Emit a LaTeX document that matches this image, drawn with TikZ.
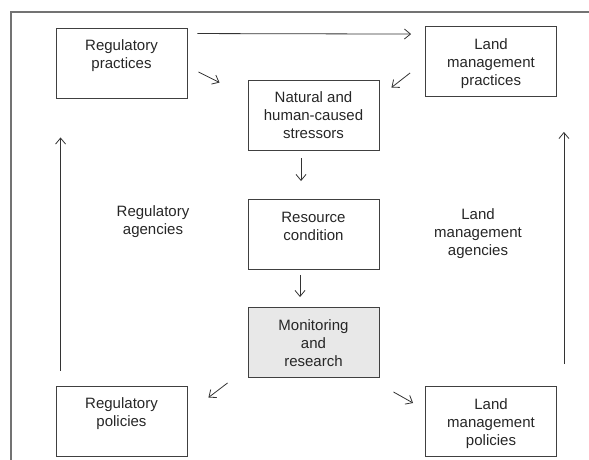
\documentclass[tikz,border=0pt]{standalone}
\usepackage{fontspec}
\setmainfont{Liberation Sans}
\usetikzlibrary{calc,arrows.meta}

\newcommand{\boxtext}[1]{\parbox[c][50pt][t]{121pt}{\centering\strut #1}}

\begin{document}
\begin{tikzpicture}[x=1pt,y=-1pt,
  every node/.style={font=\fontsize{15}{18}\selectfont, text=black!85},
  box/.style={draw=black!75, line width=0.9pt, minimum width=131pt, minimum height=70pt, inner xsep=5pt, inner ysep=10pt},
  shaded/.style={box, fill=black!9},
  flow/.style={draw=black!80, line width=0.8pt, -{Straight Barb[length=6pt,width=10pt]}},
  frame/.style={draw=black!55, line width=1.2pt}]
  \useasboundingbox (0,0) rectangle (589,460);
  \draw[frame] (11,460) -- (11,12) -- (589,12);

  \node[box] (regprac) at (121.5,63) {\boxtext{Regulatory\\practices}};
  \node[box] (landprac) at (491,61.5) {\boxtext{Land\\management\\practices}};
  \node[box] (stress) at (313.5,115) {\boxtext{Natural and\\human-caused\\stressors}};
  \node[box] (resource) at (313.5,234.5) {\boxtext{Resource\\condition}};
  \node[shaded] (monitor) at (313.5,342.5) {\boxtext{Monitoring\\and\\research}};
  \node[box] (regpol) at (121.5,421) {\boxtext{Regulatory\\policies}};
  \node[box] (landpol) at (491,421.5) {\boxtext{Land\\management\\policies}};

  \node[align=center] (regag) at (153,222) {Regulatory\\agencies};
  \node[align=center] (landag) at (478,234) {Land\\management\\agencies};

  \draw[flow] ($(regprac.north east)+(10,6)$) -- ($(landprac.north west)+(-14,8)$);
  \draw[flow] ($(regprac.east)+(11,9)$) -- ($(stress.north west)+(-28,3)$);
  \draw[flow] ($(landprac.west)+(-15,11.5)$) -- ($(stress.north east)+(12,8)$);
  \draw[flow] ($(stress.south)+(-12.5,8)$) -- ($(resource.north)+(-12.5,-18)$);
  \draw[flow] ($(resource.south)+(-13.5,5)$) -- ($(monitor.north)+(-13.5,-10)$);
  \draw[flow] ($(monitor.south west)+(-20,5)$) -- ($(regpol.north east)+(21,12)$);
  \draw[flow] ($(monitor.south east)+(14,14)$) -- ($(landpol.west)+(-12,-18.5)$);
  \draw[flow] ($(regpol.north west)+(5,-15)$) -- ($(regprac.south west)+(5,39)$);
  \draw[flow] ($(landpol.north east)+(7,-22)$) -- ($(landprac.south east)+(7,35)$);
\end{tikzpicture}
\end{document}
